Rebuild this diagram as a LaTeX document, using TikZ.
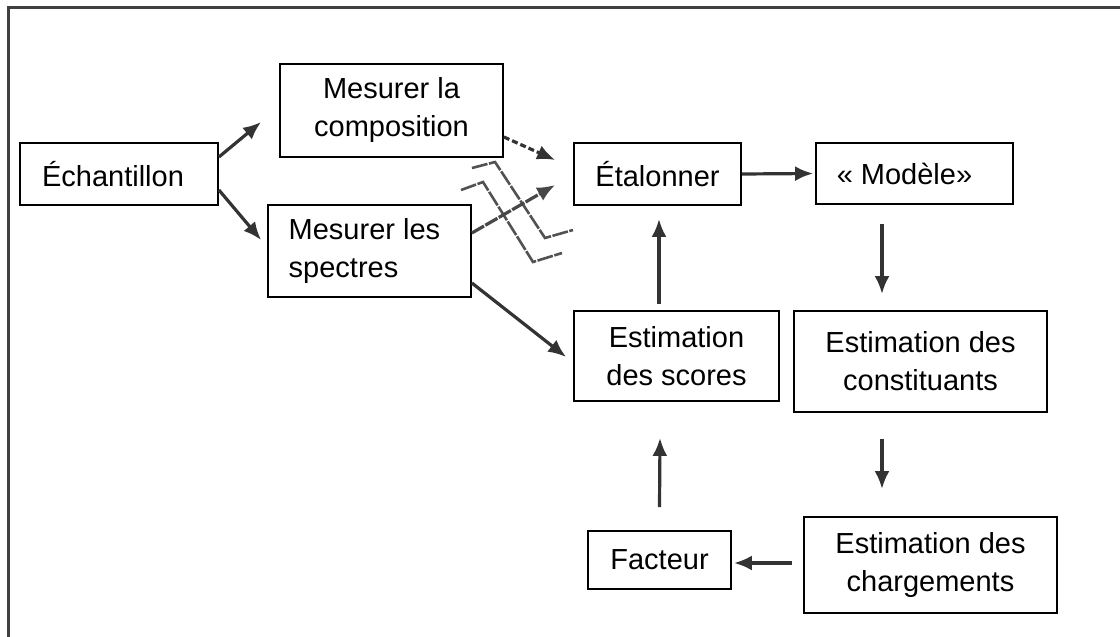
\documentclass[tikz,border=0pt]{standalone}
\usepackage{fontspec}
\setmainfont{Liberation Sans}
\usetikzlibrary{arrows.meta}
\begin{document}
\begin{tikzpicture}[x=1pt,y=-1pt,
  box/.style={draw=black,line width=1.8pt,rectangle,inner sep=0pt,align=center,
    font=\fontsize{29}{38}\selectfont},
  arr/.style={draw=black!80,line width=3.2pt,-{Latex[length=18pt,width=15pt]}},
  darr/.style={arr,dash pattern=on 6pt off 3pt},
  garr/.style={arr,draw=black!72,dash pattern=on 14pt off 1.5pt},
  brk/.style={draw=black!68,line width=2.6pt,dash pattern=on 16pt off 1.5pt}]
\useasboundingbox (0,0) rectangle (1120,637);
\draw[black!75,line width=2.5pt] (1125,7.5) -- (8.5,7.5) -- (8.5,645);

\node[box,minimum width=198pt,minimum height=62pt] (ech) at (119,174) {Échantillon\hspace*{12pt}};
\node[box,minimum width=223pt,minimum height=93pt] (comp) at (391.5,110.5) {Mesurer la\\composition};
\node[box,minimum width=203pt,minimum height=92pt,align=left] (spec) at (369.5,251) {Mesurer les\\spectres\hspace*{52pt}};
\node[box,minimum width=167pt,minimum height=62pt] (etal) at (657.5,174) {Étalonner};
\node[box,minimum width=197pt,minimum height=61pt] (mod) at (914.5,173.5) {« Modèle»\hspace*{20pt}};
\node[box,minimum width=205pt,minimum height=90pt] (scores) at (676.5,356) {Estimation\\des scores};
\node[box,minimum width=253pt,minimum height=101pt] (const) at (920.5,361.5) {Estimation des\\constituants};
\node[box,minimum width=253pt,minimum height=96pt] (charg) at (930.5,565) {Estimation des\\chargements};
\node[box,minimum width=143pt,minimum height=58pt] (fact) at (659.5,560) {Facteur};

% break symbol
\draw[brk] (472,168) -- (495,162) -- (545,238) -- (573,230);
\draw[brk] (461,190) -- (483,182) -- (533,262) -- (562,253);

\draw[arr] ([yshift=17pt]ech.east) -- ([xshift=-18pt,yshift=-11.5pt]comp.west);
\draw[arr] ([yshift=-16pt]ech.east) -- ([xshift=-6pt,yshift=11pt]spec.west);
\draw[darr] ([yshift=-26.5pt]comp.east) -- ([xshift=-18pt,yshift=14pt]etal.west);
\draw[garr] ([yshift=18pt]spec.east) -- ([xshift=-18pt,yshift=-11pt]etal.west);
\draw[arr] ([yshift=-32pt]spec.east) -- ([xshift=-7pt,yshift=-1pt]scores.west);
\draw[arr] ([xshift=-17.5pt,yshift=6pt]scores.north) -- ([xshift=1.5pt,yshift=-13pt]etal.south);
\draw[arr] (etal.east) -- ([xshift=-2pt]mod.west);
\draw[arr] ([xshift=-32.5pt,yshift=-19pt]mod.south) -- ([xshift=-38.5pt,yshift=16pt]const.north);
\draw[arr] ([xshift=-38.5pt,yshift=-26pt]const.south) -- ([xshift=-48.5pt,yshift=27pt]charg.north);
\draw[arr] ([yshift=23pt]fact.north) -- ([xshift=-16.5pt,yshift=-36pt]scores.south);
\draw[arr] ([xshift=-11pt,yshift=2pt]charg.west) -- ([xshift=2pt,yshift=-3pt]fact.east);
\end{tikzpicture}
\end{document}
